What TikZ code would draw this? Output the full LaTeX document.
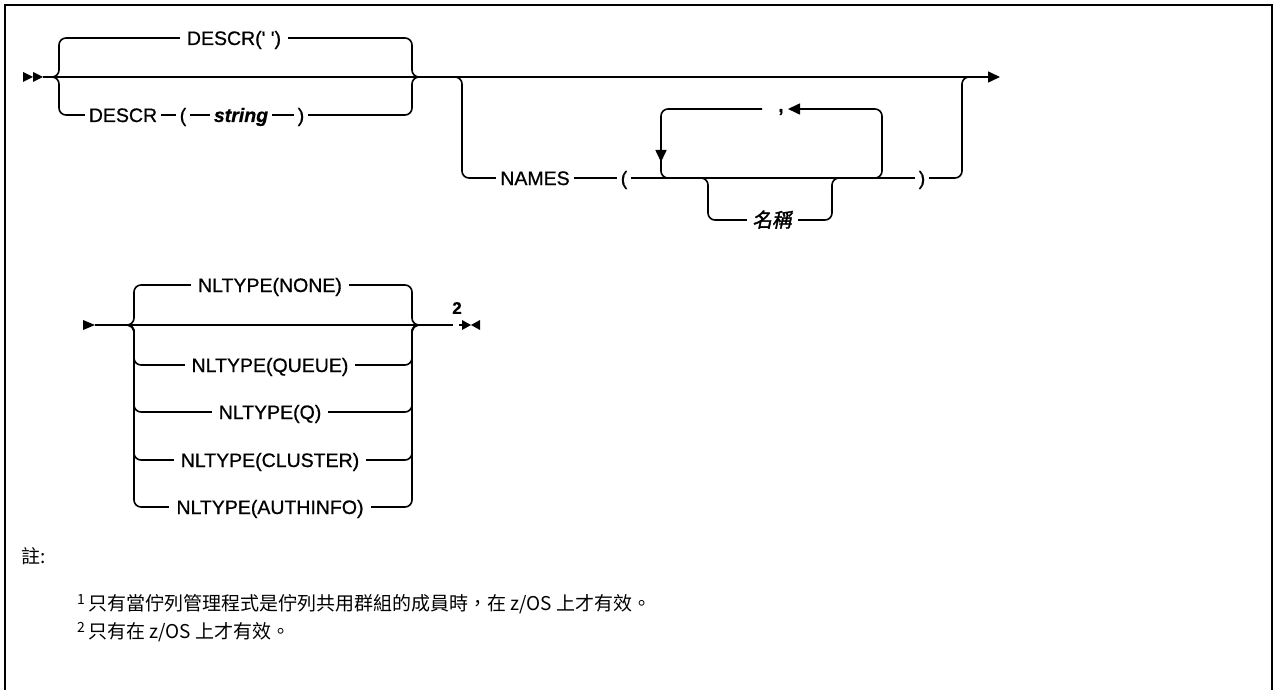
\documentclass[tikz,border=0pt]{standalone}
\usepackage{fontspec}
\setmainfont{Liberation Sans}[FakeBold=0.7]
\newfontfamily\cjk{Noto Sans CJK TC}
\newfontfamily\cjkbi{Noto Sans CJK TC}[FakeSlant=0.2,FakeBold=2]
\usetikzlibrary{arrows.meta}
\tikzset{
  rr/.style={line width=1.6pt, rounded corners=7pt},
  ln/.style={line width=1.6pt},
  lbl/.style={fill=white, inner xsep=7pt, inner ysep=1pt, text height=14pt, text depth=0pt, font=\fontsize{19.5}{22}\selectfont},
  tok/.style={lbl, inner xsep=4pt},
  tipr/.style={-{Triangle[length=12pt,width=11pt]}},
  tmark/.style={fill=black, draw=none},
  notefont/.style={font=\cjk\fontsize{19}{22}\selectfont},
}
\begin{document}
\begin{tikzpicture}[x=1pt,y=-1pt]
\useasboundingbox (0,0) rectangle (1274,690);
% frame (open at bottom)
\draw[line width=2.6pt] (5,692) -- (5,5) -- (1272,5) -- (1272,692);

% ---------- part 1 ----------
\coordinate (s1) at (43,77);
\coordinate (e1) at (1000,77);
\fill[tmark] (23,72) -- (33,77) -- (23,82) -- cycle;
\fill[tmark] (33,72) -- (43,77) -- (33,82) -- cycle;
\draw[ln,tipr] (s1) -- (e1);

% DESCR choice
\draw[rr] (47,77) -| (59,38) -- (412,38) |- (424,77);
\draw[rr] (47,77) -| (59,115) -- (412,115) |- (424,77);
\node[lbl] (d0) at (234,38) {DESCR(\textquotesingle{} \textquotesingle)};
\node[tok] (d1) at (123,115) {DESCR};
\node[tok] (d2) at (183,115) {(};
\node[tok] (d3) at (241,115) {\bfseries\itshape string};
\node[tok] (d4) at (301,115) {)};

% NAMES branch
\draw[rr] (450,77) -| (462,178) -- (962,178) |- (974,77);
\node[tok] (n0) at (535,178) {NAMES};
\node[tok] (n1) at (624,178) {(};
\node[tok] (n2) at (922,178) {)};

% repeat loop
\coordinate (cl) at (762,109);
\coordinate (cr) at (788,109);
\node[inner sep=0pt, font=\bfseries\fontsize{19.5}{22}\selectfont] (cm) at (781,112) {,};
\draw[rr] (cl) -| (661,178) -- (676,178);
\draw[rr,tipr] (868,178) -| (882,109) -- (cr);
\draw[ln,tipr] (661,140) -- (661,162);

% name branch
\draw[rr] (696,178) -| (708,220) -- (832,220) |- (844,178);
\node[lbl, inner xsep=6pt] (nm) at (772,220) {\cjkbi 名稱};

% ---------- part 2 ----------
\coordinate (s2) at (95,325);
\fill[tmark] (83,320) -- (95,325) -- (83,330) -- cycle;
\draw[ln] (s2) -- (453,325);
\draw[ln] (459,325) -- (462,325);
\foreach \yy in {285,365,412,460,507}{
  \draw[rr] (122,325) -| (134,\yy) -- (412,\yy) |- (424,325);
}
\node[lbl] (t0) at (270,285) {NLTYPE(NONE)};
\node[lbl] (t1) at (270,365) {NLTYPE(QUEUE)};
\node[lbl] (t2) at (270,412) {NLTYPE(Q)};
\node[lbl] (t3) at (270,460) {NLTYPE(CLUSTER)};
\node[lbl] (t4) at (270,507) {NLTYPE(AUTHINFO)};
\node[font=\bfseries\fontsize{17}{18}\selectfont, inner sep=0pt] (fn2) at (457,308) {2};
\fill[tmark] (462,320) -- (471,325) -- (462,330) -- cycle;
\fill[tmark] (480,320) -- (471,325) -- (480,330) -- cycle;

% ---------- notes ----------
\node[notefont, anchor=base west, inner sep=0pt] (nh) at (21,563) {註:};
\node[notefont, anchor=base west, inner sep=0pt] (nl1) at (77,610)
  {\raisebox{6pt}{\fontsize{14}{14}\selectfont 1}\,只有當佇列管理程式是佇列共用群組的成員時，在 z/OS 上才有效。};
\node[notefont, anchor=base west, inner sep=0pt] (nl2) at (77,638)
  {\raisebox{6pt}{\fontsize{14}{14}\selectfont 2}\,只有在 z/OS 上才有效。};
\end{tikzpicture}
\end{document}
